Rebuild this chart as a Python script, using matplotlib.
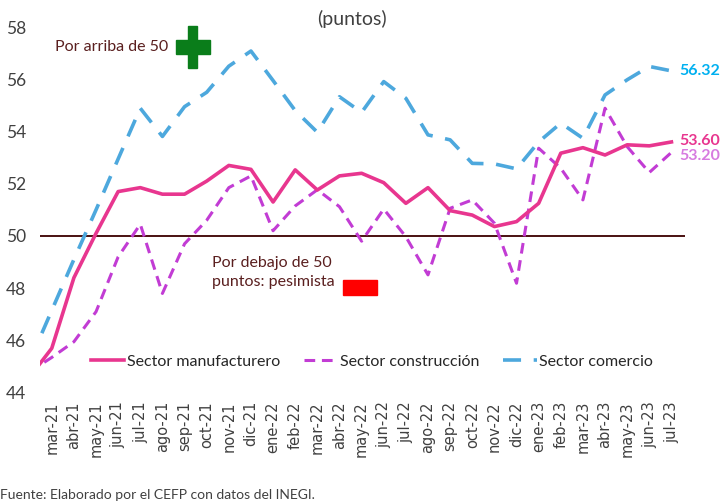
import numpy as np
import matplotlib.pyplot as plt
from matplotlib.patches import Rectangle

plt.rcParams['font.family'] = ['Lato', 'DejaVu Sans']

# months shown on the axis (feb-21 value exists in the source data but falls outside the plot area)
months = ["mar-21", "abr-21", "may-21", "jun-21", "jul-21", "ago-21", "sep-21", "oct-21",
          "nov-21", "dic-21", "ene-22", "feb-22", "mar-22", "abr-22", "may-22", "jun-22",
          "jul-22", "ago-22", "sep-22", "oct-22", "nov-22", "dic-22", "ene-23", "feb-23",
          "mar-23", "abr-23", "may-23", "jun-23", "jul-23"]

# first value of each list = feb-21 (clipped at the left edge)
manufacturero = [44.6, 45.7, 48.4, 50.1, 51.7, 51.85, 51.6, 51.6, 52.1, 52.7, 52.55,
                 51.3, 52.53, 51.76, 52.3, 52.4, 52.04, 51.25, 51.85, 50.97, 50.8,
                 50.36, 50.55, 51.25, 53.17, 53.38, 53.1, 53.49, 53.45, 53.6]
construccion = [44.8, 45.35, 45.95, 47.1, 49.2, 50.45, 47.8, 49.7, 50.6, 51.85, 52.3,
                50.2, 51.15, 51.77, 51.12, 49.8, 51.03, 49.97, 48.51, 51.06, 51.38,
                50.49, 48.19, 53.36, 52.59, 51.38, 54.89, 53.42, 52.43, 53.2]
comercio = [45.2, 47.15, 49.1, 51.0, 52.95, 54.89, 53.81, 54.95, 55.5, 56.5, 57.08,
            55.95, 54.8, 53.97, 55.33, 54.73, 55.91, 55.27, 53.87, 53.68, 52.78,
            52.76, 52.57, 53.6, 54.32, 53.74, 55.4, 55.98, 56.49, 56.32]

c_man = "#e8368f"
c_con = "#c23cd4"
c_com = "#4da8dd"
brown = "#5a1f1f"

fig = plt.figure(figsize=(7.2, 5.03), dpi=100)
ax = fig.add_axes([0.0556, 0.2193, 0.8954, 0.727])

x = np.arange(-1, len(months))

ax.axhline(50, color="#4a1010", lw=1.4, zorder=1)
ax.plot(x, comercio, color=c_com, lw=2.6, dashes=(5, 3.5), label="Sector comercio", zorder=2)
ax.plot(x, construccion, color=c_con, lw=2.2, dashes=(3.5, 2.2), label="Sector construcción", zorder=3)
ax.plot(x, manufacturero, color=c_man, lw=2.6, label="Sector manufacturero", zorder=4)

ax.set_xlim(-0.53, 28.6)
ax.set_ylim(44, 58)
ax.set_yticks(range(44, 59, 2))
ax.set_xticks(range(len(months)))
ax.set_xticklabels(months, rotation=90, fontsize=10.5, color="#404040", family="DejaVu Sans")
ax.tick_params(axis="y", labelsize=12.5, colors="#404040", length=0, pad=10)
ax.tick_params(axis="x", length=0, pad=6)
for s in ax.spines.values():
    s.set_visible(False)

# end labels
ax.text(28.35, comercio[-1], "56.32", color="#00b0f0", fontsize=11.5, fontweight="bold", va="center")
ax.text(28.35, manufacturero[-1] + 0.05, "53.60", color=c_man, fontsize=11.5, fontweight="bold", va="center")
ax.text(28.35, construccion[-1] - 0.15, "53.20", color="#d77be0", fontsize=11.5, fontweight="bold", va="center")

handles, labels = ax.get_legend_handles_labels()
order = [2, 1, 0]
ax.legend([handles[i] for i in order], [labels[i] for i in order], ncol=3, frameon=False,
          loc="center", bbox_to_anchor=(0.515, 0.084), fontsize=11.5, handlelength=2.1,
          columnspacing=1.5, handletextpad=0.15, labelcolor="#262626")

fig.text(0.489, 0.962, "(puntos)", fontsize=14, color="#404040", ha="center", va="center")
fig.text(0.076, 0.907, "Por arriba de 50", fontsize=11.5, color=brown, va="center")
fig.text(0.294, 0.458, "Por debajo de 50\npuntos: pesimista", fontsize=11.5, color=brown,
         va="center", linespacing=1.45)

# green plus and red minus signs
fig.patches.append(Rectangle((188 / 720, 1 - 68 / 503), 9 / 720, 42 / 503,
                             transform=fig.transFigure, color="#0a7d1a"))
fig.patches.append(Rectangle((176 / 720, 1 - 54 / 503), 34 / 720, 14 / 503,
                             transform=fig.transFigure, color="#0a7d1a"))
fig.patches.append(Rectangle((343 / 720, 1 - 295 / 503), 34 / 720, 15 / 503,
                             transform=fig.transFigure, color="#ff0000"))

fig.text(0.0, 0.004, "Fuente: Elaborado por el CEFP con datos del INEGI.", fontsize=10,
         color="#404040", va="bottom")

fig.savefig("out.png", dpi=100)
